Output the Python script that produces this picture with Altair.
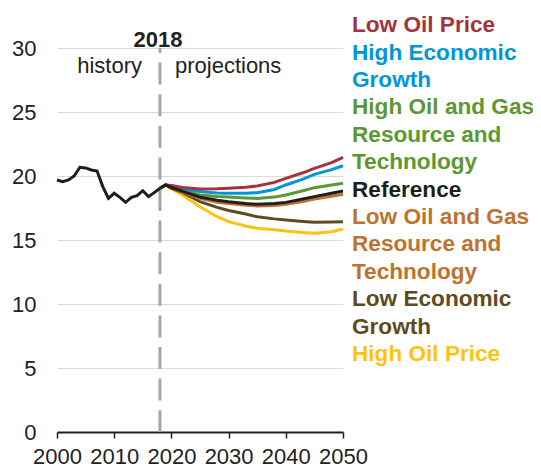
import altair as alt
import pandas as pd

FONT = "Liberation Sans"

hist_years = list(range(2000, 2019))
hist_values = [19.69, 19.56, 19.69, 20.0, 20.68, 20.63, 20.47, 20.39, 19.17, 18.25,
               18.65, 18.33, 17.94, 18.33, 18.46, 18.85, 18.39, 18.7, 19.04]

proj_years = [2018, 2019, 2020, 2022, 2025, 2028, 2030, 2033, 2035, 2038, 2040, 2043, 2045, 2048, 2050]
low_oil_price = [19.04, 19.3, 19.25, 19.1, 18.98, 19.0, 19.04, 19.12, 19.22, 19.5, 19.82, 20.25, 20.6, 21.05, 21.45]
high_econ = [19.04, 19.3, 19.2, 19.0, 18.78, 18.68, 18.65, 18.65, 18.7, 18.95, 19.3, 19.75, 20.13, 20.5, 20.8]
high_og = [19.04, 19.3, 19.15, 18.9, 18.52, 18.4, 18.35, 18.28, 18.25, 18.35, 18.52, 18.85, 19.09, 19.3, 19.43]
reference = [19.04, 19.3, 19.1, 18.8, 18.35, 18.1, 17.98, 17.85, 17.79, 17.85, 17.94, 18.2, 18.39, 18.65, 18.83]
low_og = [19.04, 19.3, 19.1, 18.75, 18.26, 17.95, 17.85, 17.72, 17.66, 17.7, 17.79, 18.0, 18.2, 18.42, 18.57]
low_econ = [19.04, 19.3, 19.05, 18.7, 18.0, 17.55, 17.3, 17.03, 16.82, 16.65, 16.56, 16.45, 16.38, 16.4, 16.43]
high_oil_price = [19.04, 19.3, 19.0, 18.5, 17.6, 16.82, 16.43, 16.1, 15.91, 15.8, 15.7, 15.58, 15.52, 15.65, 15.86]

series_names = ["High Oil Price", "Low Economic Growth", "Low Oil and Gas Resource and Technology",
                "High Oil and Gas Resource and Technology", "High Economic Growth", "Low Oil Price", "Reference"]
series_values = [high_oil_price, low_econ, low_og, high_og, high_econ, low_oil_price, reference]
series_colors = ["#FFC20E", "#5F4B22", "#BD732F", "#5D9732", "#0096D7", "#A33340", "#1E1E1E"]

legend_lines = ["Low Oil Price", "High Economic", "Growth", "High Oil and Gas", "Resource and",
                "Technology", "Reference", "Low Oil and Gas", "Resource and", "Technology",
                "Low Economic", "Growth", "High Oil Price"]
legend_colors = ["#A33340", "#0096D7", "#0096D7", "#5D9732", "#5D9732", "#5D9732", "#1E1E1E",
                 "#BD732F", "#BD732F", "#BD732F", "#5F4B22", "#5F4B22", "#FFC20E"]

x_scale = alt.Scale(domain=[2000, 2050], nice=False)
y_scale = alt.Scale(domain=[0, 30], nice=False)

x_axis = alt.Axis(values=[2000, 2010, 2020, 2030, 2040, 2050], format="d", title=None,
                  grid=False, labelFontSize=22, labelFont=FONT, labelColor="#222222",
                  labelOverlap=False, labelFlush=False, labelBound=False,
                  tickSize=6, tickWidth=1.5, tickColor="#222222", domainColor="#222222",
                  domainWidth=2, labelPadding=8)
y_axis = alt.Axis(values=[0, 5, 10, 15, 20, 25, 30], title=None, grid=True, gridColor="#d9d9d9",
                  gridWidth=1, domain=False, ticks=False, labelPadding=21, labelFontSize=22,
                  labelFont=FONT, labelColor="#222222", labelOverlap=False)

layers = []

rule = alt.Chart(pd.DataFrame({"yr": [2018]})).mark_rule(
    color="#a6a6a6", strokeWidth=3, strokeDash=[22, 9.6], strokeDashOffset=17
).encode(x=alt.X("yr:Q", scale=x_scale, axis=x_axis))
layers.append(rule)

hist_df = pd.DataFrame({"year": hist_years, "value": hist_values})
layers.append(
    alt.Chart(hist_df).mark_line(color="#1E1E1E", strokeWidth=3).encode(
        x=alt.X("year:Q", scale=x_scale, axis=x_axis),
        y=alt.Y("value:Q", scale=y_scale, axis=y_axis),
    )
)

for name, vals, col in zip(series_names, series_values, series_colors):
    df = pd.DataFrame({"year": proj_years, "value": vals, "series": name})
    layers.append(
        alt.Chart(df).mark_line(color=col, strokeWidth=3).encode(
            x=alt.X("year:Q", scale=x_scale, axis=x_axis),
            y=alt.Y("value:Q", scale=y_scale, axis=y_axis),
        )
    )

ann_df = pd.DataFrame({"yr": [2018], "v": [30]})
base_ann = alt.Chart(ann_df).encode(
    x=alt.X("yr:Q", scale=x_scale, axis=x_axis),
    y=alt.Y("v:Q", scale=y_scale, axis=y_axis),
)
layers.append(base_ann.mark_text(text="2018", font=FONT, fontSize=22, fontWeight="bold",
                                 color="#222222", align="center", baseline="alphabetic", dy=-1, dx=-2))
layers.append(base_ann.mark_text(text="history", font=FONT, fontSize=22, color="#222222",
                                 align="right", baseline="alphabetic", dx=-18, dy=25))
layers.append(base_ann.mark_text(text="projections", font=FONT, fontSize=22, color="#222222",
                                 align="left", baseline="alphabetic", dx=15, dy=25))

main = alt.layer(*layers)

leg_df = pd.DataFrame({"row": list(range(len(legend_lines))), "label": legend_lines, "col": legend_colors})
legend = alt.Chart(leg_df).mark_text(font=FONT, fontSize=22.6, fontWeight="bold", align="left",
                                     baseline="alphabetic").encode(
    x=alt.value(295),
    y=alt.Y("row:O", axis=None, scale=alt.Scale(type="point", range=[-15.7, 313], padding=0)),
    text="label:N",
    color=alt.Color("col:N", scale=None, legend=None),
)

chart = alt.layer(main, legend).resolve_scale(y="independent").properties(
    width=286, height=384,
    autosize=alt.AutoSizeParams(type="none"),
    padding={"left": 49, "top": 40, "right": 190, "bottom": 41},
).configure_view(stroke=None)

chart.save("out.html", embed_options={"renderer": "svg", "actions": False})
